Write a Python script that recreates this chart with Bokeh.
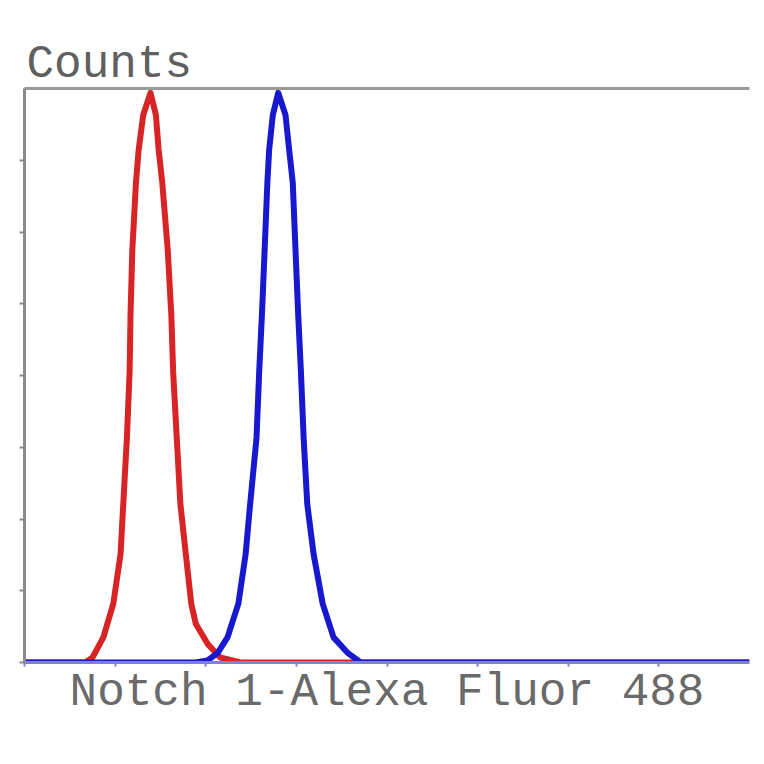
from bokeh.plotting import figure
from bokeh.models import Range1d, LinearAxis, FixedTicker
from bokeh.embed import file_html
from bokeh.resources import INLINE

# Histogram data (x in decades of fluorescence, y in counts units)
red_x = [0, 0.67, 0.75, 0.87, 0.98, 1.06, 1.09, 1.13, 1.16, 1.17, 1.19, 1.23, 1.26, 1.31, 1.39,
         1.45, 1.48, 1.52, 1.58, 1.62, 1.64, 1.68, 1.72, 1.78, 1.84, 1.89, 2.02, 2.16, 2.38, 8]
red_y = [0, 0, 0.07, 0.35, 0.82, 1.51, 2.21, 3.13, 4.06, 4.85, 5.76, 6.69, 7.15, 7.63, 7.94,
         7.63, 7.15, 6.69, 5.76, 4.85, 4.06, 3.13, 2.21, 1.51, 0.82, 0.54, 0.26, 0.07, 0, 0]

blue_x = [0, 1.89, 2.02, 2.13, 2.24, 2.36, 2.44, 2.49, 2.56, 2.59, 2.62, 2.65, 2.68, 2.70, 2.74, 2.80,
          2.88, 2.92, 2.96, 2.99, 3.02, 3.05, 3.08, 3.12, 3.19, 3.29, 3.41, 3.57, 3.71, 8]
blue_y = [0, 0, 0.03, 0.13, 0.35, 0.82, 1.51, 2.21, 3.13, 4.06, 4.85, 5.76, 6.69, 7.15, 7.63, 7.94,
          7.63, 7.15, 6.69, 5.76, 4.85, 4.06, 3.13, 2.21, 1.51, 0.82, 0.35, 0.13, 0, 0]

x_ticks = [0, 1, 2, 3, 4, 5, 6, 7]
y_ticks = [0, 1, 2, 3, 4, 5, 6, 7]

x_label = "Notch 1-Alexa Fluor 488"
y_label = "Counts"

FONT = "Liberation Mono"

p = figure(width=756, height=756, output_backend="svg", toolbar_location=None,
           x_range=Range1d(0, 8), y_range=Range1d(0, 8),
           min_border_left=24, min_border_right=7, min_border_top=88, min_border_bottom=94,
           title=y_label)
p.outline_line_color = None
p.xgrid.visible = False
p.ygrid.visible = False
p.background_fill_color = "white"

p.title.text_font = FONT
p.title.text_font_size = "46px"
p.title.text_font_style = "normal"
p.title.text_color = "#606060"
p.title.align = "left"
p.title.standoff = -4
p.title.offset = 2

# x axis
xa = p.xaxis[0]
xa.ticker = FixedTicker(ticks=x_ticks)
xa.axis_line_color = "#8080e0"
xa.axis_line_width = 3
xa.major_tick_line_color = "#8080e0"
xa.major_tick_line_width = 2
xa.major_tick_out = 4
xa.major_tick_in = 0
xa.minor_tick_line_color = None
xa.major_label_text_color = None
xa.major_label_standoff = 0
xa.axis_label = x_label
xa.axis_label_text_font = FONT
xa.axis_label_text_font_size = "46px"
xa.axis_label_text_font_style = "normal"
xa.axis_label_text_color = "#6a6a6a"
xa.axis_label_standoff = 0

# y axis
ya = p.yaxis[0]
ya.ticker = FixedTicker(ticks=y_ticks)
ya.axis_line_color = "#8a8a8a"
ya.axis_line_width = 3
ya.major_tick_line_color = "#8a8a8a"
ya.major_tick_line_width = 2
ya.major_tick_out = 5
ya.major_tick_in = 0
ya.minor_tick_line_color = None
ya.major_label_text_color = None

# top border line
top = LinearAxis(major_tick_line_color=None, minor_tick_line_color=None,
                 major_label_text_color=None, major_label_standoff=0,
                 major_tick_out=0, major_tick_in=0,
                 axis_line_color="#9a9a9a", axis_line_width=3,
                 ticker=FixedTicker(ticks=[]))
p.add_layout(top, "above")

p.line(red_x, red_y, line_color="#d82424", line_width=6, line_join="round")
p.line(blue_x, blue_y, line_color="#1818d0", line_width=6, line_join="round")

open("out.html", "w").write(file_html(p, INLINE))
